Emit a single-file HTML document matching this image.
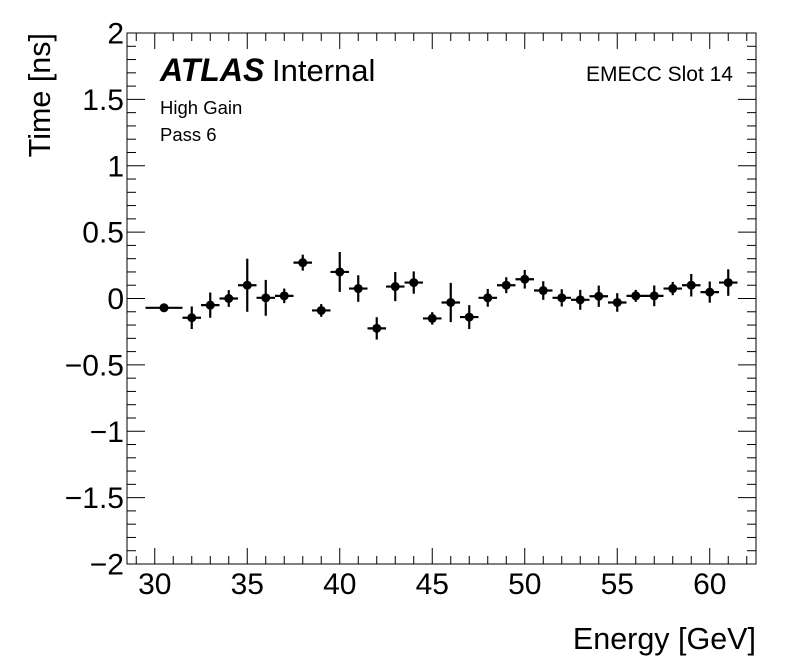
<!DOCTYPE html>
<html><head><meta charset="utf-8"><style>
html,body{margin:0;padding:0;background:#fff;}
svg{display:block;font-family:"Liberation Sans",Arial,sans-serif;}
</style></head><body>
<svg id="chart" width="796" height="672" viewBox="0 0 796 672" xmlns="http://www.w3.org/2000/svg">
<g id="axes"></g>
<g id="points"></g>
<text x="160" y="81" font-size="32" font-weight="bold" font-style="italic">ATLAS</text>
<text x="272" y="81" font-size="31">Internal</text>
<text x="733" y="81" font-size="21" text-anchor="end">EMECC Slot 14</text>
<text x="160" y="114" font-size="18.5">High Gain</text>
<text x="160" y="141" font-size="18.5">Pass 6</text>
<text transform="translate(50,33) rotate(-90)" font-size="30.5" text-anchor="end">Time [ns]</text>
<text x="756" y="649" font-size="30.5" text-anchor="end">Energy [GeV]</text>
</svg>
<script>
const energies=[30.5,32,33,34,35,36,37,38,39,40,41,42,43,44,45,46,47,48,49,50,51,52,53,54,55,56,57,58,59,60,61];
const energyErr=[1,0.5,0.5,0.5,0.5,0.5,0.5,0.5,0.5,0.5,0.5,0.5,0.5,0.5,0.5,0.5,0.5,0.5,0.5,0.5,0.5,0.5,0.5,0.5,0.5,0.5,0.5,0.5,0.5,0.5,0.5];
const times=[-0.07,-0.145,-0.05,0.0,0.1,0.005,0.02,0.27,-0.09,0.2,0.075,-0.225,0.09,0.12,-0.15,-0.03,-0.14,0.005,0.1,0.145,0.06,0.005,-0.01,0.017,-0.03,0.02,0.02,0.075,0.1,0.048,0.12];
const timeErr=[0,0.085,0.095,0.063,0.2,0.135,0.055,0.06,0.048,0.15,0.1,0.084,0.11,0.084,0.047,0.148,0.09,0.067,0.06,0.07,0.07,0.065,0.075,0.08,0.07,0.045,0.078,0.05,0.085,0.08,0.1];
const xTickLabels=["30","35","40","45","50","55","60"];
const yTickLabels=["\u22122","\u22121.5","\u22121","\u22120.5","0","0.5","1","1.5","2"];

const L=127,R=756,T=33,B=564,xmin=28.5,xmax=62.5,ymin=-2,ymax=2;
const sx=v=>L+(v-xmin)/(xmax-xmin)*(R-L);
const sy=v=>B-(v-ymin)/(ymax-ymin)*(B-T);
const NS="http://www.w3.org/2000/svg";
function mk(tag,attrs,parent){const e=document.createElementNS(NS,tag);for(const k in attrs)e.setAttribute(k,attrs[k]);parent.appendChild(e);return e;}
const ax=document.getElementById('axes');
const frame=mk('rect',{x:L,y:T,width:R-L,height:B-T,fill:'none',stroke:'#000','stroke-width':1},ax);


for(let v=29;v<=62;v++){
  const major=v%5===0, len=major?16:8, x=sx(v);
  const t1=mk('line',{x1:x,x2:x,y1:B,y2:B-len,stroke:'#000'},ax);
  
  
  const t2=mk('line',{x1:x,x2:x,y1:T,y2:T+len,stroke:'#000'},ax);
  
  
}
xTickLabels.forEach(s=>{
  const t=mk('text',{x:sx(+s),y:594,'font-size':30,'text-anchor':'middle'},ax);t.textContent=s;
  
  
});
for(let i=0;i<=40;i++){
  const v=-2+i*0.1, major=i%5===0, len=major?18:9, y=sy(v);
  const t1=mk('line',{x1:L,x2:L+len,y1:y,y2:y,stroke:'#000'},ax);
  
  
  const t2=mk('line',{x1:R,x2:R-len,y1:y,y2:y,stroke:'#000'},ax);
  
  
}
yTickLabels.forEach((s,i)=>{
  const t=mk('text',{x:124,y:sy(-2+i*0.5)+10.5,'font-size':30,'text-anchor':'end'},ax);t.textContent=s;
  
  
});
const pg=document.getElementById('points');
energies.forEach((e,i)=>{
  const g=mk('g',{},pg);
  
  
  const x=sx(e),y=sy(times[i]);
  mk('line',{x1:sx(e-energyErr[i]),x2:sx(e+energyErr[i]),y1:y,y2:y,stroke:'#000','stroke-width':2.2},g);
  if(timeErr[i]>0)mk('line',{x1:x,x2:x,y1:sy(times[i]-timeErr[i]),y2:sy(times[i]+timeErr[i]),stroke:'#000','stroke-width':2.2},g);
  mk('circle',{cx:x,cy:y,r:4.5,fill:'#000'},g);
});
</script>
</body></html>
